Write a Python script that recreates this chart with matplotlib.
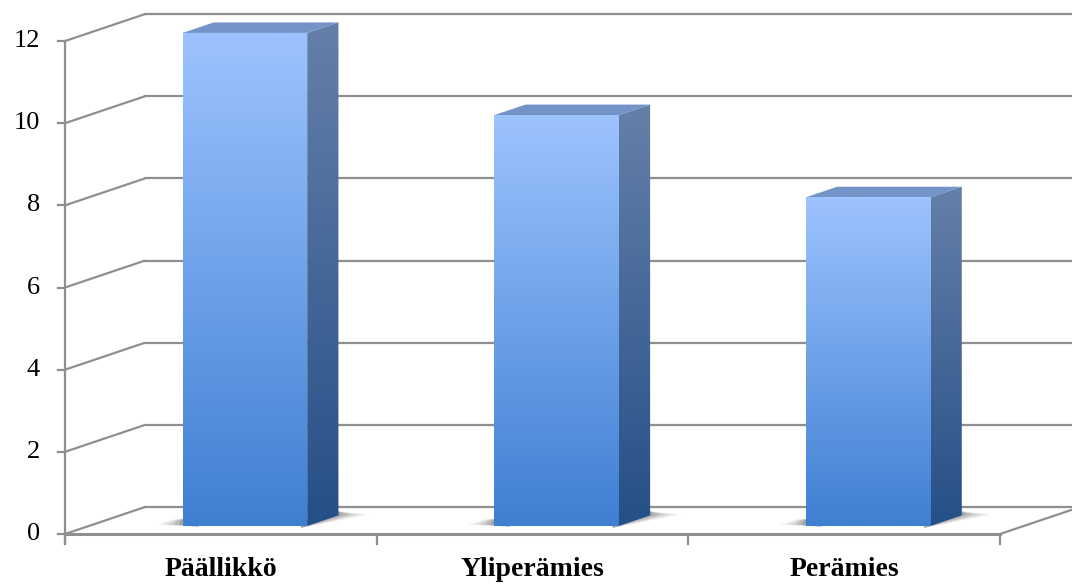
import numpy as np
import matplotlib.pyplot as plt
from matplotlib.patches import Polygon
from matplotlib.colors import LinearSegmentedColormap

categories = ['Päällikkö', 'Yliperämies', 'Perämies']
values = [12, 10, 8]
y_ticks = [0, 2, 4, 6, 8, 10, 12]

# perspective offset of the back wall (category units, value units)
DX = 0.257
DY = 0.657
BAR_W = 0.40
D_FRONT, D_BACK = 0.30, 0.69

GRID = '#8f8f8f'
FRONT = ('#3f7fd2', '#9dc3ff')
SIDE = ('#254f88', '#6580a8')
TOP = '#7494c8'
FONT = 'Liberation Serif'


def depth(x, y, d):
    return (x + d * DX, y + d * DY)


def gradient_face(ax, verts, bottom_color, top_color, z):
    poly = Polygon(verts, closed=True, facecolor='none', edgecolor='none')
    ax.add_patch(poly)
    xs = [v[0] for v in verts]
    ys = [v[1] for v in verts]
    cmap = LinearSegmentedColormap.from_list('face', [bottom_color, top_color])
    grad = np.linspace(0, 1, 256).reshape(-1, 1)
    im = ax.imshow(grad, extent=(min(xs), max(xs), min(ys), max(ys)),
                   origin='lower', cmap=cmap, aspect='auto', zorder=z,
                   interpolation='bilinear')
    im.set_clip_path(poly)


fig = plt.figure(figsize=(10.72, 5.84), dpi=100)
ax = fig.add_axes([0, 0, 1, 1])
ax.axis('off')

top_val = max(y_ticks)
n = len(categories)

# back wall gridlines and the diagonals joining them to the value axis
for v in y_ticks:
    bx, by = depth(0, v, 1)
    ax.plot([0, bx], [v, by], color=GRID, lw=1.6, zorder=1, solid_capstyle='butt')
    ax.plot([bx, n + DX], [by, by], color=GRID, lw=1.6, zorder=1)
    ax.plot([-0.022, 0], [v, v], color=GRID, lw=1.6, zorder=1)
    ax.text(-0.08, v, str(v), ha='right', va='center', fontsize=19,
            family=FONT, color='black')

# value axis, floor front edge and right edge
ax.plot([0, 0], [-0.25, top_val], color=GRID, lw=1.6, zorder=1)
ax.plot([0, n], [0, 0], color=GRID, lw=2.2, zorder=4)
ax.plot([n, n + DX], [0, DY], color=GRID, lw=1.6, zorder=4)
for i in range(n + 1):
    ax.plot([i, i], [0, -0.25], color=GRID, lw=1.6, zorder=4)

for i, (cat, val) in enumerate(zip(categories, values)):
    x0 = i + 0.5 - BAR_W / 2
    x1 = i + 0.5 + BAR_W / 2
    fl = depth(x0, 0, D_FRONT)
    fr = depth(x1, 0, D_FRONT)
    br = depth(x1, 0, D_BACK)
    ftl = depth(x0, val, D_FRONT)
    ftr = depth(x1, val, D_FRONT)
    btl = depth(x0, val, D_BACK)
    btr = depth(x1, val, D_BACK)

    # soft floor shadow, a wedge either side of the bar foot
    for k, a in zip(range(5), [0.06, 0.08, 0.1, 0.13, 0.16]):
        grow = 0.07 - k * 0.015
        sh = [(fr[0] - 0.02, fr[1] - 0.05), (br[0] + grow * 1.4, br[1] + 0.02),
              (br[0], br[1] + 0.1), (fr[0] - 0.02, fr[1] + 0.1)]
        ax.add_patch(Polygon(sh, closed=True, facecolor='#303030',
                             edgecolor='none', alpha=a, zorder=3))
        sh2 = [(fl[0] - grow * 1.2, fl[1] + 0.03), (fl[0] + 0.05, fl[1] - 0.02),
               (fl[0] + 0.05, fl[1] + 0.2), (fl[0] - grow * 0.5, fl[1] + 0.15)]
        ax.add_patch(Polygon(sh2, closed=True, facecolor='#303030',
                             edgecolor='none', alpha=a, zorder=3))

    gradient_face(ax, [fl, fr, ftr, ftl], FRONT[0], FRONT[1], 6)
    gradient_face(ax, [fr, br, btr, ftr], SIDE[0], SIDE[1], 5)
    ax.add_patch(Polygon([ftl, ftr, btr, btl], closed=True, facecolor=TOP,
                         edgecolor='none', zorder=5))

    ax.text(i + 0.5, -0.86, cat, ha='center', va='center', fontsize=20,
            fontweight='bold', family=FONT, color='black')

ax.set_xlim(-65 / 311.67, 1007 / 311.67)
ax.set_ylim(-50 / 41.08, 534 / 41.08)

fig.savefig('out.png', dpi=100)
